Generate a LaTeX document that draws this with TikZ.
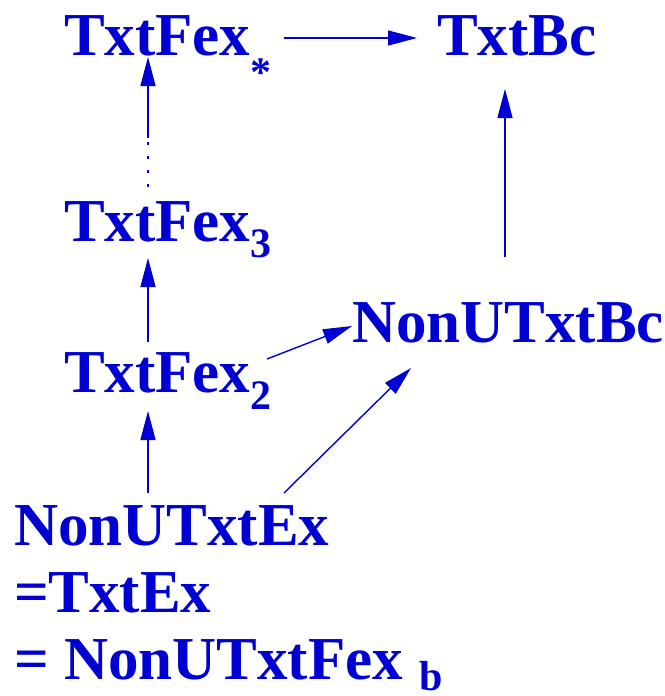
\documentclass[tikz,border=0pt]{standalone}
\usepackage{fontspec}
\setmainfont{Liberation Serif}
\usetikzlibrary{arrows.meta,calc}
\definecolor{dblue}{RGB}{0,0,210}
\newcommand{\mysub}[2]{\raisebox{-#1pt}{\fontsize{42}{42}\selectfont #2}}
\begin{document}
\begin{tikzpicture}[x=1pt,y=-1pt,
  lab/.style={anchor=base west, inner sep=0pt, outer sep=0pt, text=dblue,
              font=\fontsize{61}{61}\selectfont\bfseries},
  arr/.style={draw=dblue, line width=1.4pt, -{Triangle[length=29pt,width=15pt]}},
  dotseg/.style={draw=dblue, line width=1.4pt, dash pattern=on 3pt off 11pt}]
\useasboundingbox (0,0) rectangle (664,696);
% nodes
\node[lab] (fs) at (64,55)  {TxtFex\mysub{31}{*}};
\node[lab] (bc) at (437,55) {TxtBc};
\node[lab] (f3) at (64,241) {TxtFex\mysub{16}{3}};
\node[lab] (f2) at (64,392) {TxtFex\mysub{17}{2}};
\node[lab] (nb) at (352,342) {NonUTxtBc};
\node[lab] (ne1) at (14,545) {NonUTxtEx};
\node[lab] (ne2) at (14,612) {=TxtEx};
\node[lab] (ne3) at (14,679) {= NonUTxtFex\hspace{17pt}\mysub{11}{b}};
% connectors
\draw[arr] ($(fs.base west)+(220,-17)$) -- ($(bc.base west)+(-20,-17)$);
\coordinate (mid) at ($(fs.base west)+(84,83)$);
\draw[dotseg] ($(f3.base west)+(84,-54)$) -- (mid);
\draw[arr] (mid) -- ($(fs.base west)+(84,2)$);
\draw[arr] ($(f2.base west)+(84,-50)$) -- ($(f3.base west)+(84,17)$);
\draw[arr] ($(ne1.base west)+(134,-52)$) -- ($(f2.base west)+(84,19)$);
\draw[arr] ($(f2.base west)+(203,-33)$) -- ($(nb.base west)+(0,-16)$);
\draw[arr] ($(ne1.base west)+(270,-52)$) -- ($(nb.base west)+(59,26)$);
\draw[arr] ($(nb.base west)+(153,-85)$) -- ($(bc.base west)+(68,34)$);
\end{tikzpicture}
\end{document}
